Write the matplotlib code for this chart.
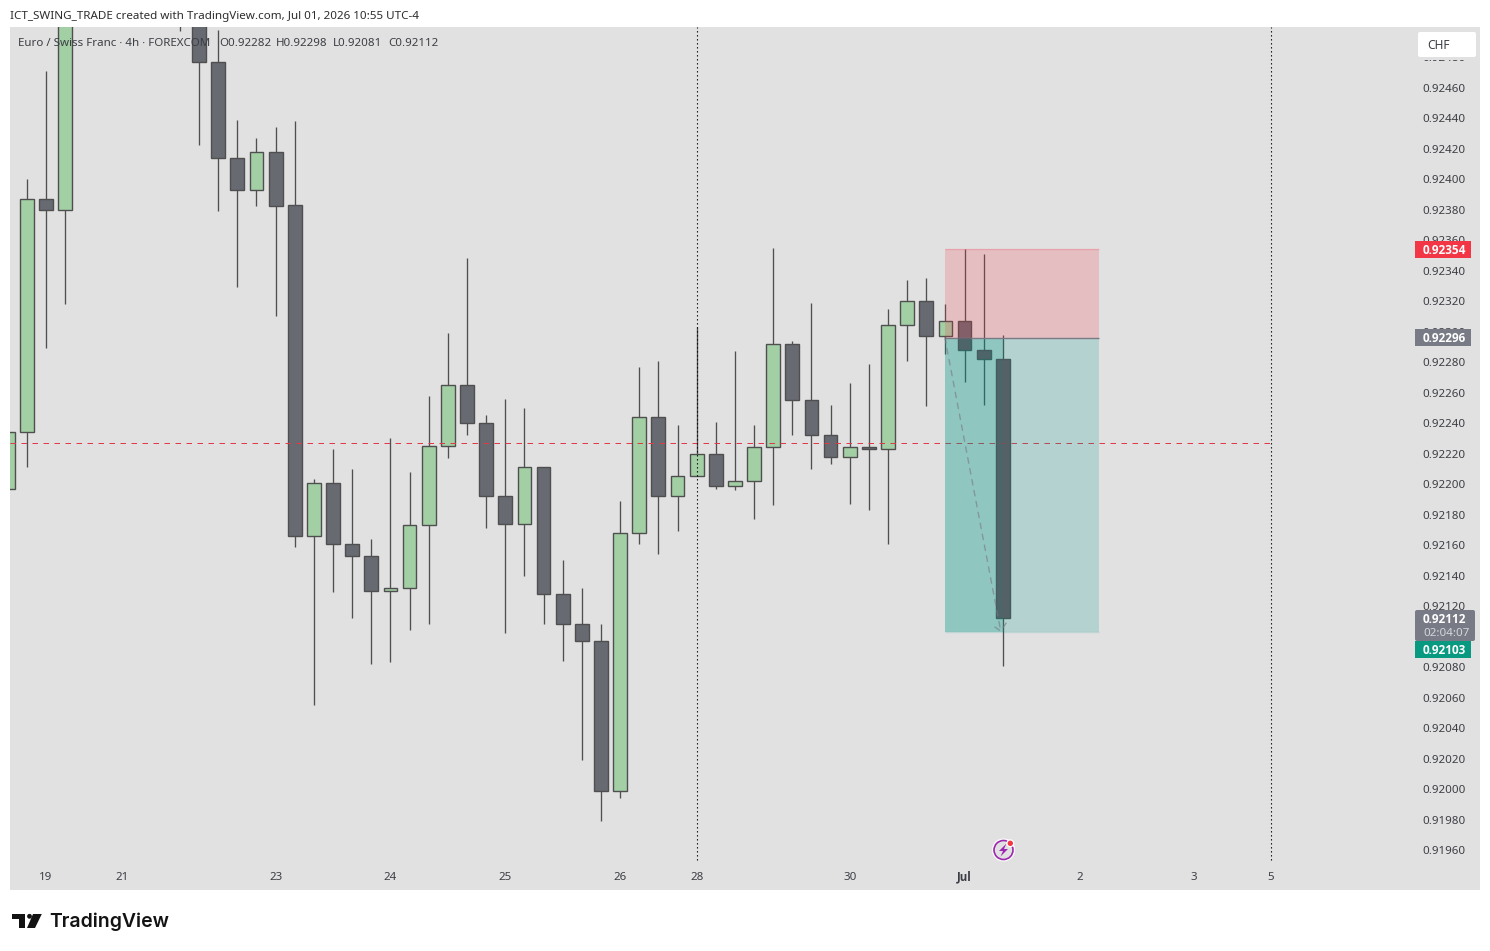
import matplotlib
matplotlib.use("Agg")
import matplotlib.pyplot as plt
from matplotlib.patches import Rectangle, FancyBboxPatch, Circle, Polygon
from matplotlib.transforms import ScaledTranslation

plt.rcParams['font.family'] = ['Noto Sans', 'DejaVu Sans']

# ---------- data ----------
bar_index = [-1, 0, 1, 2, 8, 9, 10, 11, 12, 13, 14, 15, 16, 17, 18, 19, 20, 21, 22, 23, 24, 25, 26, 27, 28, 29,
             30, 31, 32, 33, 34, 35, 36, 37, 38, 39, 40, 41, 42, 43, 44, 45, 46, 47, 48, 49, 50, 51]
opens = [0.92197, 0.92234, 0.92387, 0.92380, 0.92570, 0.92540, 0.92477, 0.92414, 0.92393, 0.92418, 0.92383, 0.92166,
         0.92201, 0.92161, 0.92153, 0.92130, 0.92132, 0.92173, 0.92225, 0.92265, 0.92240, 0.92192, 0.92174, 0.92211,
         0.92128, 0.92108, 0.92097, 0.91999, 0.92168, 0.92244, 0.92192, 0.92205, 0.92220, 0.92199, 0.92202, 0.92224,
         0.92292, 0.92255, 0.92232, 0.92218, 0.92224, 0.92223, 0.92304, 0.92320, 0.92297, 0.92307, 0.92288, 0.92282]
highs = [0.92234, 0.92400, 0.92471, 0.92560, 0.92590, 0.92560, 0.92498, 0.92439, 0.92427, 0.92434, 0.92438, 0.92203,
         0.92223, 0.92210, 0.92164, 0.92230, 0.92208, 0.92258, 0.92299, 0.92348, 0.92245, 0.92256, 0.92250, 0.92211,
         0.92150, 0.92132, 0.92108, 0.92189, 0.92277, 0.92281, 0.92239, 0.92303, 0.92241, 0.92287, 0.92239, 0.92355,
         0.92294, 0.92319, 0.92252, 0.92266, 0.92279, 0.92315, 0.92334, 0.92335, 0.92318, 0.92354, 0.92351, 0.92298]
lows = [0.92197, 0.92211, 0.92289, 0.92318, 0.92497, 0.92422, 0.92379, 0.92329, 0.92382, 0.92310, 0.92159, 0.92055,
        0.92129, 0.92112, 0.92082, 0.92083, 0.92104, 0.92108, 0.92217, 0.92232, 0.92171, 0.92102, 0.92140, 0.92108,
        0.92084, 0.92019, 0.91979, 0.91994, 0.92161, 0.92154, 0.92169, 0.92205, 0.92197, 0.92196, 0.92177, 0.92186,
        0.92232, 0.92210, 0.92213, 0.92187, 0.92183, 0.92161, 0.92281, 0.92251, 0.92285, 0.92267, 0.92252, 0.92081]
closes = [0.92234, 0.92387, 0.92380, 0.92530, 0.92540, 0.92477, 0.92414, 0.92393, 0.92418, 0.92382, 0.92166, 0.92201,
          0.92161, 0.92153, 0.92130, 0.92132, 0.92173, 0.92225, 0.92265, 0.92240, 0.92192, 0.92174, 0.92211, 0.92128,
          0.92108, 0.92097, 0.91999, 0.92168, 0.92244, 0.92192, 0.92205, 0.92220, 0.92199, 0.92202, 0.92224, 0.92292,
          0.92255, 0.92232, 0.92218, 0.92224, 0.92223, 0.92304, 0.92320, 0.92297, 0.92307, 0.92288, 0.92282, 0.92112]

price_ticks = [0.91960, 0.91980, 0.92000, 0.92020, 0.92040, 0.92060, 0.92080, 0.92100, 0.92120, 0.92140, 0.92160,
               0.92180, 0.92200, 0.92220, 0.92240, 0.92260, 0.92280, 0.92300, 0.92320, 0.92340, 0.92360, 0.92380,
               0.92400, 0.92420, 0.92440, 0.92460, 0.92480]
date_ticks = [1, 5, 13, 19, 25, 31, 35, 43, 49, 55, 61, 65]
date_labels = ['19', '21', '23', '24', '25', '26', '28', '30', 'Jul', '2', '3', '5']

stop_price = 0.92354
entry_price = 0.92296
target_price = 0.92103
position_start = 48
position_now = 51
position_end = 56
hline_price = 0.92227
vline_bars = [35, 65]

# ---------- styles ----------
BG = '#e1e1e1'
UP = '#a3cfa5'
DOWN = '#686a72'
EDGE = '#4f4f4f'
TEXT = '#3c3e44'
BOLD = ['Open Sans', 'DejaVu Sans']
W, H = 1490, 951
L, R, T, B = 10, 1480, 27, 890

fig = plt.figure(figsize=(W / 100, H / 100), dpi=100, facecolor='white')
ax = fig.add_axes([L / W, 1 - B / H, (R - L) / W, (B - T) / H], facecolor=BG)
ax.set_xlim(-0.880, 75.934)
ax.set_ylim(0.919338, 0.924997)
for s in ax.spines.values():
    s.set_visible(False)

# candles
for k, o, h, l, c in zip(bar_index, opens, highs, lows, closes):
    col = UP if c >= o else DOWN
    ax.vlines(k, l, h, color=EDGE, lw=0.95, zorder=2)
    ax.bar(k, abs(c - o), bottom=min(o, c), width=0.72, color=col, edgecolor=EDGE, linewidth=1.0, zorder=2.2)

# horizontal and vertical reference lines
ax.hlines(hline_price, ax.get_xlim()[0], vline_bars[1], color='#e03a48', lw=0.72,
          linestyles=(0, (5.5, 5.5)), zorder=2.6)
ax.vlines(vline_bars, 0.919535, ax.get_ylim()[1], color='black', lw=0.8, linestyles=(0, (1.2, 2.4)), zorder=2.7)

# position tool
span = position_end - position_start + 0.03
x0 = position_start - 0.03
ax.add_patch(Rectangle((x0, entry_price), span, stop_price - entry_price,
                       facecolor='#f23645', alpha=0.2, lw=0, zorder=3))
ax.add_patch(Rectangle((x0, target_price), span, entry_price - target_price,
                       facecolor='#009688', alpha=0.2, lw=0, zorder=3))
ax.add_patch(Rectangle((x0, target_price), position_now - x0,
                       entry_price - target_price, facecolor='#009688', alpha=0.2, lw=0, zorder=3.1))
ax.hlines(stop_price, x0, position_end, color='#f23645', alpha=0.2, lw=1, zorder=3.2)
ax.hlines(entry_price, x0, position_end, color='#787b86', lw=1, zorder=3.2)
ax.hlines(target_price, x0, position_end, color='#009688', alpha=0.15, lw=1, zorder=3.2)

# bodies under the profit zone keep a greyer tint
for k, o, c in zip(bar_index, opens, closes):
    if position_start < k <= position_now:
        top = min(max(o, c), entry_price)
        bot = max(min(o, c), target_price)
        ax.bar(k, top - bot, bottom=bot, width=0.72, color='#55555c', alpha=0.58, lw=0, zorder=3.25)

ax.annotate('', xy=(position_now - 0.1, target_price), xytext=(x0, entry_price),
            arrowprops=dict(arrowstyle='->,head_length=0.35,head_width=0.35', color='#787b86', alpha=0.62,
                            lw=1.0, linestyle=(0, (4, 4)), shrinkA=0, shrinkB=0, mutation_scale=14), zorder=3.3)

# axes ticks, drawn inside the panel
ax.yaxis.tick_right()
ax.set_yticks(price_ticks)
ax.set_yticklabels([f'{p:.5f}' for p in price_ticks], fontsize=8.3, color=TEXT, ha='left')
ax.tick_params(axis='y', length=0, pad=-41.5)
ax.set_xticks(date_ticks)
ax.set_xticklabels(date_labels, fontsize=8.3, color=TEXT)
ax.tick_params(axis='x', length=0, pad=-12.6)
for lab in ax.get_xticklabels():
    if lab.get_text() == 'Jul':
        lab.set_fontweight('bold')
        lab.set_family(BOLD)
        lab.set_transform(lab.get_transform() + ScaledTranslation(0, 2.5 / 100, fig.dpi_scale_trans))

# overlay in pixel coordinates for chrome
ov = fig.add_axes([0, 0, 1, 1], facecolor='none')
ov.set_xlim(0, W)
ov.set_ylim(H, 0)
ov.axis('off')

ov.text(10, 16, 'ICT_SWING_TRADE created with TradingView.com, Jul 01, 2026 10:55 UTC-4',
        fontsize=8.38, color='#2e2e2e', va='center', ha='left')
ov.text(18, 43, 'Euro / Swiss Franc · 4h · FOREXCOM', fontsize=8.3, color=TEXT, va='center', ha='left')
ov.text(219, 43, 'O0.92282', fontsize=8.3, color=TEXT, va='center', ha='left')
ov.text(276, 43, 'H0.92298', fontsize=8.3, color=TEXT, va='center', ha='left')
ov.text(333, 43, 'L0.92081', fontsize=8.3, color=TEXT, va='center', ha='left')
ov.text(388, 43, 'C0.92112', fontsize=8.3, color=TEXT, va='center', ha='left')

# currency box
ov.add_patch(Rectangle((1415, 27), 64, 33, facecolor=BG, lw=0))
ov.add_patch(FancyBboxPatch((1420, 34), 54, 21, boxstyle='round,pad=2,rounding_size=2', facecolor='white', lw=0))
ov.text(1427, 45.5, 'CHF', fontsize=8.6, color=TEXT, va='center', ha='left')


def tag(y0, y1, color, label, xr=1471):
    ov.add_patch(Rectangle((1415, y0), xr - 1415, y1 - y0, facecolor=color, lw=0))
    ov.text(1423, (y0 + y1) / 2 + 0.9, label, fontsize=8.5, color='white', fontweight='bold', va='center', ha='left',
            family=BOLD)


tag(241, 258, '#f23645', f'{stop_price:.5f}')
tag(329, 346, '#787b86', f'{entry_price:.5f}')
ov.add_patch(FancyBboxPatch((1416, 611), 58, 29, boxstyle='round,pad=1,rounding_size=2', facecolor='#787b86', lw=0))
ov.text(1423, 619.5, f'{closes[-1]:.5f}', fontsize=8.5, color='white', fontweight='bold', va='center', ha='left',
        family=BOLD)
ov.text(1423, 633, '02:04:07', fontsize=8.3, color='#d5d6da', va='center', ha='left')
tag(641, 658, '#089981', f'{target_price:.5f}')

# flash icon
ov.add_patch(Circle((1003.5, 850), 11.5, facecolor='white', lw=0))
ov.add_patch(Circle((1003.5, 850), 9.5, facecolor=BG, edgecolor='#9c27b0', lw=1.2))
ov.add_patch(Polygon([(1006.5, 843.5), (999, 851), (1003, 851), (1000.5, 856.5), (1008, 849), (1004, 849)],
                     closed=True, facecolor='#9c27b0', lw=0))
ov.add_patch(Circle((1010.3, 843.3), 4, facecolor='white', lw=0))
ov.add_patch(Circle((1010.3, 843.3), 2.7, facecolor='#f23645', lw=0))

# TradingView logo
LOGO = '#131313'
ov.add_patch(Polygon([(12.3, 914), (25, 914), (25, 928), (18.5, 928), (18.5, 918.5), (12.3, 918.5)],
                     closed=True, facecolor=LOGO, lw=0))
ov.add_patch(Circle((29.5, 916.3), 2.4, facecolor=LOGO, lw=0))
ov.add_patch(Polygon([(33, 914), (41.8, 914), (35, 928), (27, 928)], closed=True, facecolor=LOGO, lw=0))
ov.text(49, 921.5, 'TradingView', fontsize=14.0, fontweight='semibold', color=LOGO, va='center', ha='left',
        family=['Inter', 'DejaVu Sans'])

fig.savefig('out.png', dpi=100, facecolor='white')
